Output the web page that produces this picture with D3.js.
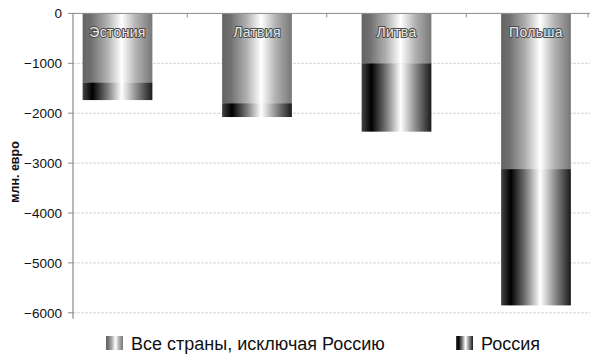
<!DOCTYPE html>
<html><head><meta charset="utf-8">
<script src="https://cdn.jsdelivr.net/npm/d3@7"></script>
<style>
html,body{margin:0;padding:0;background:#fff;}
svg{display:block;font-family:"Liberation Sans",Arial,sans-serif;}
</style></head>
<body><svg id="c" width="600" height="361"></svg>
<script>
const categories = ["Эстония", "Латвия", "Литва", "Польша"];
const seriesNames = ["Все страны, исключая Россию", "Россия"];
const othersValues = [-1383, -1800, -1000, -3120];
const russiaValues = [-354, -277, -1370, -2732];
const yTicks = [0, -1000, -2000, -3000, -4000, -5000, -6000];
const yTitle = "млн. евро";

const svg = d3.select("#c");
const defs = svg.append("defs");
function grad(id, stops){
  const g = defs.append("linearGradient").attr("id", id).attr("x1","0%").attr("x2","100%").attr("y1","0%").attr("y2","0%");
  stops.forEach(s => g.append("stop").attr("offset", s[0]).attr("stop-color", s[1]));
}
grad("gGray", [["0%","#646464"],["12%","#707070"],["35%","#b0b0b0"],["56%","#ffffff"],["76%","#b4b4b4"],["100%","#777777"]]);
grad("gBlack", [["0%","#444"],["14%","#000"],["35%","#777"],["56%","#ffffff"],["78%","#888"],["100%","#1a1a1a"]]);

const left = 73, right = 590;
const x = d3.scaleBand().domain(categories).range([47.75, 605.75]).paddingInner(0.5).paddingOuter(0.25);
const y = d3.scaleLinear().domain([0, -6000]).range([13.4, 312.8]);

// gridlines
svg.append("g").selectAll("line").data(yTicks.slice(1)).join("line")
  .attr("x1", left).attr("x2", right).attr("y1", d => y(d)).attr("y2", d => y(d))
  .attr("stroke", "#d4d4d4").attr("stroke-width", 1).attr("stroke-dasharray", "3,1");

// stacked bars
const data = categories.map((c,i) => ({c, o: othersValues[i], r: russiaValues[i]}));
const bars = svg.append("g");
bars.selectAll("rect.o").data(data).join("rect").attr("class","o")
  .attr("x", d => x(d.c)).attr("width", x.bandwidth())
  .attr("y", d => y(0)).attr("height", d => y(d.o) - y(0))
  .attr("fill", "url(#gGray)");
bars.selectAll("rect.r").data(data).join("rect").attr("class","r")
  .attr("x", d => x(d.c)).attr("width", x.bandwidth())
  .attr("y", d => y(d.o)).attr("height", d => y(d.o + d.r) - y(d.o))
  .attr("fill", "url(#gBlack)");

// category labels inside bars
bars.selectAll("text").data(data).join("text")
  .attr("x", d => x(d.c) + x.bandwidth()/2).attr("y", 37)
  .attr("text-anchor", "middle").attr("font-size", 14).attr("letter-spacing", 0.3)
  .attr("fill", "#e8e8e8").attr("stroke", "#4a4a4a").attr("stroke-width", 2)
  .attr("paint-order", "stroke").attr("stroke-linejoin", "round")
  .text(d => d.c);

// top axis at zero with category separators
const ax = svg.append("g");
ax.append("line").attr("x1", left).attr("x2", right).attr("y1", y(0)).attr("y2", y(0))
  .attr("stroke", "#8a8a8a").attr("stroke-width", 1);
const seps = categories.map(c => Math.min(right - 2, x(c) + x.bandwidth() + x.step()*x.paddingInner()/2));
ax.selectAll("line.sep").data(seps).join("line").attr("class","sep")
  .attr("x1", d => d).attr("x2", d => d).attr("y1", y(0)).attr("y2", y(0) + 4)
  .attr("stroke", "#8a8a8a");

// y axis
ax.append("line").attr("x1", left).attr("x2", left).attr("y1", y(0)).attr("y2", y(-6000) + 6)
  .attr("stroke", "#8a8a8a").attr("stroke-width", 1.2);
ax.selectAll("line.yt").data(yTicks).join("line").attr("class","yt")
  .attr("x1", left - 5).attr("x2", left).attr("y1", d => y(d)).attr("y2", d => y(d))
  .attr("stroke", "#8a8a8a");
ax.selectAll("text.yl").data(yTicks).join("text").attr("class","yl")
  .attr("x", 62).attr("y", d => y(d)).attr("dy", "0.35em")
  .attr("text-anchor", "end").attr("font-size", 13.5).attr("fill", "#111")
  .text(d => d3.format("d")(d));

svg.append("text").attr("transform", "translate(19,172) rotate(-90)")
  .attr("text-anchor", "middle").attr("font-size", 12.5).attr("font-weight", "bold").attr("fill", "#111")
  .text(yTitle);

// legend
const legend = svg.append("g");
const legX = [106, 456];
const legFill = ["url(#gGray)", "url(#gBlack)"];
seriesNames.forEach((s,i) => {
  legend.append("rect").attr("x", legX[i]).attr("y", 336).attr("width", 17).attr("height", 14).attr("fill", legFill[i]);
  legend.append("text").attr("x", legX[i] + 25).attr("y", 350).attr("font-size", 18).attr("fill", "#111").text(s);
});
</script></body></html>
